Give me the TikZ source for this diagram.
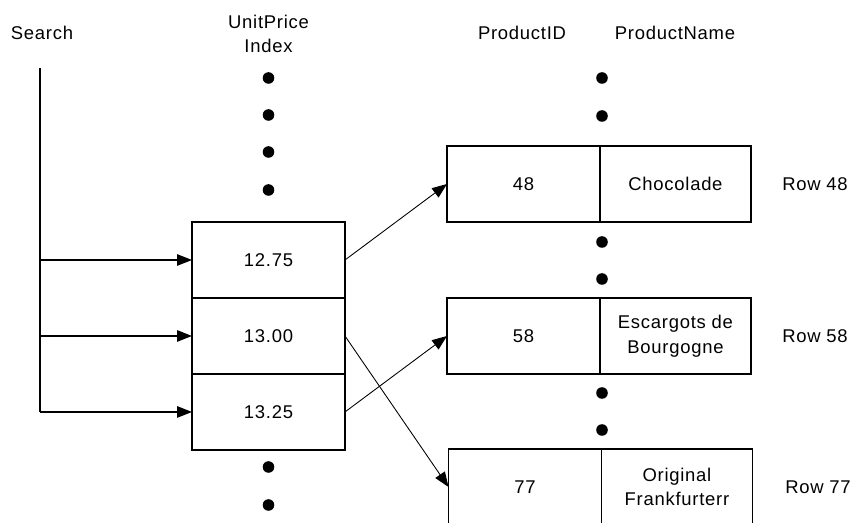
\documentclass[tikz,border=0pt]{standalone}
\usepackage{fontspec}
\setmainfont[LetterSpace=4]{Liberation Sans}
\usepackage{tikz}
\usetikzlibrary{
  arrows.meta,
  positioning
}
\newcommand{\pdot}[2]{%
  \fill (#1,#2) circle (3.3pt);%
}

\begin{document}
\begin{tikzpicture}[x=0.02cm,y=-0.02cm,
  font=\fontsize{10.5}{14}\selectfont,
  cell/.style={draw,line width=0.9pt,outer sep=0pt,inner sep=0pt,
    minimum height=1.52cm,align=center},
  idcell/.style={cell,minimum width=3.06cm},
  namecell/.style={cell,minimum width=3.02cm},
  ptr/.style={-{Triangle[length=8.5pt,width=6.5pt]},line width=0.75pt},
  lnk/.style={-{Triangle[length=8.5pt,width=6.5pt]},line width=0.5pt}]
  \useasboundingbox (0,0) rectangle (853,523);
  \clip (0,0) rectangle (853,523);
  % headings
  \node (hsearch) at (42,33) {Search};
  \node[align=center] (hindex) at (268.5,34) {UnitPrice\\Index};
  \node (hid) at (522,33) {ProductID};
  \node (hname) at (675,33) {ProductName};
  % index entries
  \node[idcell] (p1275) at (268.5,260) {12.75};
  \node[idcell,below=0pt of p1275] (p1300) {13.00};
  \node[idcell,below=0pt of p1300] (p1325) {13.25};
  % table rows
  \node[idcell] (id48) at (523.5,184) {48};
  \node[namecell,right=0pt of id48] (nm48) {Chocolade};
  \node[idcell] (id58) at (523.5,336) {58};
  \node[namecell,right=0pt of id58] (nm58) {Escargots de\\Bourgogne};
  \node[idcell] (id77) at (525,487) {77};
  \node[namecell,right=0pt of id77] (nm77) {Original\\Frankfurterr};
  \node (r48) at (815,184) {Row 48};
  \node (r58) at (815,336) {Row 58};
  \node (r77) at (818,487) {Row 77};
  % search
  \coordinate (stop) at (40,68);
  \draw[line width=0.75pt] (stop) -- (p1325.west -| stop);
  \foreach \c in {p1275,p1300,p1325}
    \draw[ptr] (\c.west -| stop) -- (\c.west);
  \draw[lnk] (p1275.east) -- (id48.west);
  \draw[lnk] (p1325.east) -- (id58.west);
  \draw[lnk] (p1300.east) -- (id77.west);
  % dots
  \foreach \y in {78,115,152,190,467,505}
    {\pdot{268.5}{\y}}
  \foreach \y in {78,116,242,279,393,430}
    {\pdot{602}{\y}}
\end{tikzpicture}
\end{document}
